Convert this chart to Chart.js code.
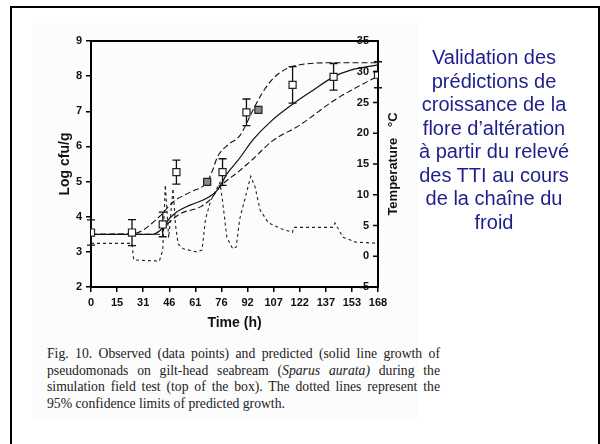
<!DOCTYPE html>
<html>
<head>
<meta charset="utf-8">
<script src="https://cdn.jsdelivr.net/npm/chart.js@4.4.1/dist/chart.umd.min.js"></script>
<style>
  html, body { margin: 0; padding: 0; background: #fff; overflow: hidden; }
  body { width: 600px; height: 444px; position: relative; }
  #frame { position: absolute; left: 10px; top: 6px; width: 586px; height: 470px; border: 2px solid #000; }
  #fig { position: absolute; left: 33px; top: 23px; width: 385px; height: 395px; background: #fcfcfc; }
  #wrap { position: absolute; left: 30px; top: 25px; width: 380px; height: 320px; }
  #caption { position: absolute; left: 47px; top: 346px; width: 393px; font: 13.7px "Liberation Serif", "Times New Roman", serif; line-height: 16.6px; color: #222; }
  #caption span { display: block; text-align: justify; text-align-last: justify; white-space: nowrap; }
  #caption span.last { text-align-last: left; }
  #side { position: absolute; left: 404px; top: 46px; width: 180px; text-align: center; font: 20px "Liberation Sans", Arial, sans-serif; line-height: 23.5px; color: #1e1e8c; }
</style>
</head>
<body>
<div id="frame"></div>
<div id="fig"></div>
<div id="wrap"><canvas id="graph" width="380" height="320"></canvas></div>
<div id="caption">
  <span>Fig. 10. Observed (data points) and predicted (solid line growth of</span>
  <span>pseudomonads on gilt-head seabream (<i>Sparus aurata)</i> during the</span>
  <span>simulation field test (top of the box). The dotted lines represent the</span>
  <span class="last">95% confidence limits of predicted growth.</span>
</div>
<div id="side">Validation des<br>prédictions de<br>croissance de la<br>flore d’altération<br>à partir du relevé<br>des TTI au cours<br>de la chaîne du<br>froid</div>
<script>
// graduations de l'axe du temps (libellés arrondis)
const xTickLabels = [0, 15, 31, 46, 61, 76, 92, 107, 122, 137, 153, 168];

// points observés (log cfu/g) et barres d'erreur
const obsTime = [0, 24, 42, 50, 68, 77, 91, 98, 118, 142, 168];
const obsLog = [3.55, 3.55, 3.78, 5.27, 4.99, 5.27, 6.97, 7.04, 7.75, 7.98, 8.04];
const obsErr = [0.36, 0.37, 0.35, 0.34, 0, 0.38, 0.38, 0, 0.52, 0.38, 0.37];
const obsShaded = [false, false, false, false, true, false, false, true, false, false, false];

// croissance prédite (ligne pleine)
const predTime = [0, 36, 42, 46, 50, 58, 68, 74, 80, 86, 95, 105, 118, 130, 142, 152, 168];
const predLog = [3.5, 3.5, 3.68, 3.95, 4.13, 4.33, 4.53, 4.76, 5.25, 5.6, 6.2, 6.7, 7.2, 7.6, 7.98, 8.17, 8.32];

// limites de confiance à 95 %
const upperTime = [0, 25, 40, 48, 58, 68, 71, 74, 80, 87, 95, 100, 106, 114, 126, 142, 168];
const upperLog = [3.5, 3.52, 4.0, 4.42, 4.7, 4.99, 5.3, 5.7, 6.04, 6.3, 7.05, 7.5, 7.9, 8.2, 8.35, 8.38, 8.38];
const lowerTime = [0, 40, 44, 52, 64, 70, 76, 86, 95, 106, 122, 142, 160, 168];
const lowerLog = [3.5, 3.5, 3.75, 4.08, 4.28, 4.5, 4.88, 5.27, 5.65, 6.15, 6.6, 7.3, 7.8, 8.0];

// profil de température (°C)
const tempTime = [0, 24, 25, 40, 42, 43.5, 45.5, 48, 49.5, 51, 54, 62, 65, 67, 70, 75.5, 77, 79.5, 83, 85, 87, 93.5, 96, 99, 104, 112, 118, 118.5, 141.7, 142.8, 147.5, 155, 168];
const tempC = [2.1, 2.1, -0.6, -0.8, 1, 11.6, 3, 11, 5, 2, 1.2, 0.7, 1.0, 6, 9, 12, 9, 3.1, 1.2, 1.5, 6, 13, 11.3, 7.5, 5.4, 4.4, 3.9, 4.7, 4.7, 5.4, 3.1, 2.3, 2.1];

const pts = (xs, ys) => xs.map((x, i) => ({ x, y: ys[i] }));

Chart.defaults.font.family = '"Liberation Sans", Arial, sans-serif';
Chart.defaults.color = '#111';

// barres d'erreur sous les carrés
const errorBars = {
  id: 'errorBars',
  beforeDatasetDraw(chart, args) {
    if (args.index !== 0) return;
    const { ctx, scales: { x, y } } = chart;
    ctx.save();
    ctx.strokeStyle = '#111';
    ctx.lineWidth = 1.3;
    obsTime.forEach((t, i) => {
      if (!obsErr[i]) return;
      const px = x.getPixelForValue(t);
      const top = y.getPixelForValue(obsLog[i] + obsErr[i]);
      const bot = y.getPixelForValue(obsLog[i] - obsErr[i]);
      ctx.beginPath();
      ctx.moveTo(px, top); ctx.lineTo(px, bot);
      ctx.moveTo(px - 4, top); ctx.lineTo(px + 4, top);
      ctx.moveTo(px - 4, bot); ctx.lineTo(px + 4, bot);
      ctx.stroke();
    });
    ctx.restore();
  }
};

// cadre du haut, graduations et libellés intérieurs à droite, titre de droite
const frame = {
  id: 'frame',
  afterDraw(chart) {
    const { ctx, chartArea: a } = chart;
    const yT = chart.scales.yT;
    ctx.save();
    ctx.strokeStyle = '#000';
    ctx.lineWidth = 2;
    ctx.beginPath();
    ctx.moveTo(a.left - 1, a.top);
    ctx.lineTo(a.right + 1, a.top);
    ctx.stroke();
    ctx.lineWidth = 1.5;
    ctx.font = 'bold 11px "Liberation Sans", Arial, sans-serif';
    ctx.fillStyle = '#111';
    ctx.textAlign = 'right';
    ctx.textBaseline = 'middle';
    yT.ticks.forEach(t => {
      const py = yT.getPixelForValue(t.value);
      ctx.beginPath();
      ctx.moveTo(a.right - 5, py);
      ctx.lineTo(a.right, py);
      ctx.stroke();
      ctx.fillText(String(t.value), a.right - 9, py);
    });
    ctx.translate(yT.left + 15, (a.top + a.bottom) / 2);
    ctx.rotate(-Math.PI / 2);
    ctx.font = 'bold 13px "Liberation Sans", Arial, sans-serif';
    ctx.textAlign = 'center';
    ctx.fillText('Temperature   °C', 0, 0);
    ctx.restore();
  }
};

const tickFont = { size: 11, weight: 'bold' };
const titleFont = { size: 14, weight: 'bold' };

new Chart(document.getElementById('graph'), {
  type: 'scatter',
  data: {
    datasets: [
      {
        data: pts(obsTime, obsLog),
        yAxisID: 'y',
        showLine: false,
        pointStyle: 'rect',
        pointRadius: 5,
        borderWidth: 1.2,
        borderColor: '#222',
        backgroundColor: obsShaded.map(s => (s ? '#8a8a8a' : '#fff')),
        order: 0
      },
      {
        data: pts(predTime, predLog),
        yAxisID: 'y',
        showLine: true,
        borderColor: '#111',
        borderWidth: 1.2,
        pointRadius: 0,
        cubicInterpolationMode: 'monotone',
        order: 1
      },
      {
        data: pts(upperTime, upperLog),
        yAxisID: 'y',
        showLine: true,
        borderColor: '#111',
        borderWidth: 1.1,
        borderDash: [6, 3],
        pointRadius: 0,
        cubicInterpolationMode: 'monotone',
        order: 2
      },
      {
        data: pts(lowerTime, lowerLog),
        yAxisID: 'y',
        showLine: true,
        borderColor: '#111',
        borderWidth: 1.1,
        borderDash: [6, 3],
        pointRadius: 0,
        cubicInterpolationMode: 'monotone',
        order: 3
      },
      {
        data: pts(tempTime, tempC),
        yAxisID: 'yT',
        showLine: true,
        borderColor: '#222',
        borderWidth: 1.1,
        borderDash: [3, 3],
        pointRadius: 0,
        tension: 0,
        order: 4
      }
    ]
  },
  options: {
    responsive: false,
    animation: false,
    layout: { padding: { top: 16, left: 0, right: 0, bottom: 0 } },
    plugins: { legend: { display: false }, tooltip: { enabled: false } },
    scales: {
      x: {
        type: 'linear',
        min: 0,
        max: 168,
        afterBuildTicks: s => { s.ticks = xTickLabels.map((l, i) => ({ value: i * 168 / 11 })); },
        afterFit: s => { s.height = 58; },
        ticks: { font: tickFont, padding: 4, maxRotation: 0, callback: (v, i) => xTickLabels[i] },
        grid: { drawOnChartArea: false, tickLength: 5, color: '#000', lineWidth: 1.5 },
        border: { color: '#000', width: 2 },
        title: { display: true, text: 'Time (h)', font: titleFont, padding: { top: 0, bottom: 13 } }
      },
      y: {
        position: 'left',
        min: 2,
        max: 9,
        ticks: { stepSize: 1, font: tickFont, padding: 4 },
        afterFit: s => { s.width = 61; },
        grid: { drawOnChartArea: false, tickLength: 5, color: '#000', lineWidth: 1.5 },
        border: { color: '#000', width: 2 },
        title: { display: true, text: 'Log cfu/g', font: titleFont, padding: { top: 27, bottom: 0 } }
      },
      yT: {
        position: 'right',
        min: -5,
        max: 35,
        ticks: { stepSize: 5, display: false },
        afterFit: s => { s.width = 32; },
        grid: { drawOnChartArea: false, drawTicks: false },
        border: { color: '#000', width: 2 }
      }
    }
  },
  plugins: [errorBars, frame]
});
</script>
</body>
</html>
